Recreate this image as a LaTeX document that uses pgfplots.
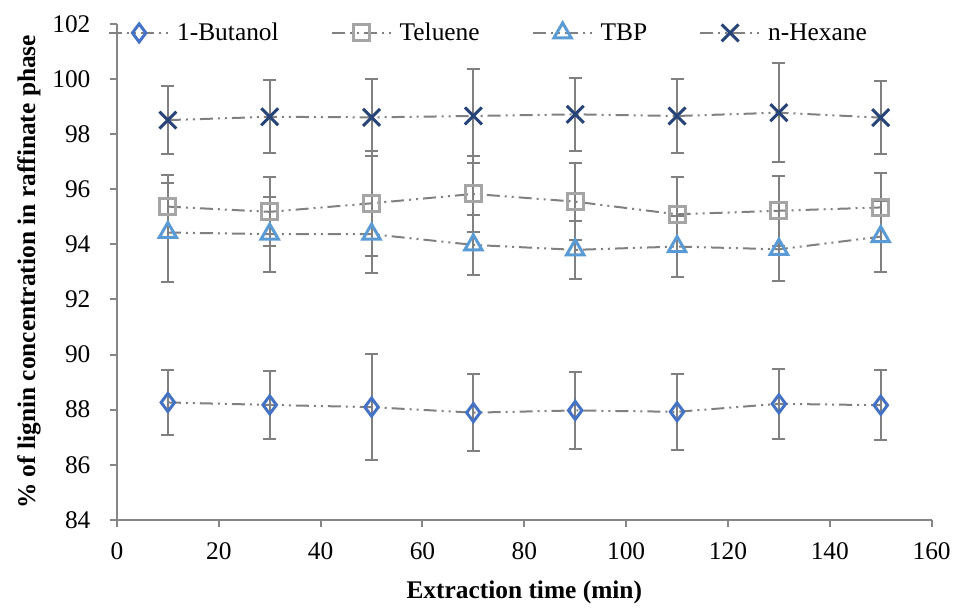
\documentclass[border=0pt]{standalone}
\usepackage{fontspec}
\setmainfont{Liberation Serif}
\usepackage{pgfplots}
\pgfplotsset{compat=1.18}
\definecolor{butanol}{RGB}{68,114,196}
\definecolor{teluene}{RGB}{165,165,165}
\definecolor{tbp}{RGB}{91,155,213}
\definecolor{hexane}{RGB}{38,68,120}
\definecolor{linegray}{RGB}{128,128,128}
\definecolor{axisgray}{RGB}{134,134,134}

\pgfplotsset{
  solvent/.style={
    draw=linegray, line width=2bp,
    dash pattern=on 13bp off 5bp on 2bp off 5bp on 2bp off 5bp,
    error bars/y dir=both, error bars/y explicit,
    error bars/error bar style={draw=linegray, line width=2bp, solid},
    error bars/error mark options={rotate=90, draw=linegray, mark size=6.5bp, line width=2bp, solid},
  },
}

\begin{document}
\begin{tikzpicture}
\begin{axis}[
  scale only axis,
  width=815bp, height=496bp,
  xmin=0, xmax=160, ymin=84, ymax=102,
  xtick={0,20,...,160}, ytick={84,86,...,102},
  axis lines*=left,
  axis line style={draw=axisgray, line width=2bp},
  tick style={draw=axisgray, line width=2bp},
  tick align=outside, major tick length=7bp,
  /pgf/number format/assume math mode=true,
  ticklabel style={font=\fontsize{25.5}{30}\selectfont},
  yticklabel style={xshift=-16bp},
  xticklabel style={yshift=-12bp},
  xlabel={\textbf{Extraction time (min)}},
  ylabel={\textbf{\% of lignin concentration in raffinate phase}},
  label style={font=\fontsize{25.5}{30}\selectfont},
  xlabel style={at={(axis description cs:0.5,-0.147)}, anchor=center},
  ylabel style={at={(axis description cs:-0.108,0.5)}, anchor=center},
  legend columns=4,
  legend style={at={(axis description cs:-0.011,0.982)}, anchor=west,
    draw=none, fill=none, font=\fontsize{25.5}{30}\selectfont,
    inner sep=0pt,
    /tikz/every odd column/.append style={column sep=5bp},
    /tikz/every even column/.append style={column sep=50bp}},
  legend image code/.code={
    \draw[mark indices={2}, #1] plot coordinates {(0bp,0bp) (30bp,0bp) (60bp,0bp)};},
]
\addplot[solvent, mark=diamond, mark size=9bp,
  mark options={solid, draw=butanol, fill=white, line width=3bp}]
  coordinates {
  (10,88.26) +- (0,1.18)
  (30,88.17) +- (0,1.25)
  (50,88.09) +- (0,1.92)
  (70,87.89) +- (0,1.40)
  (90,87.97) +- (0,1.40)
  (110,87.92) +- (0,1.37)
  (130,88.21) +- (0,1.28)
  (150,88.16) +- (0,1.27)};
\addplot[solvent, mark=square, mark size=8bp,
  mark options={solid, draw=teluene, fill=white, line width=3bp}]
  coordinates {
  (10,95.37) +- (0,1.15)
  (30,95.18) +- (0,1.25)
  (50,95.49) +- (0,1.90)
  (70,95.83) +- (0,1.38)
  (90,95.55) +- (0,1.40)
  (110,95.09) +- (0,1.37)
  (130,95.22) +- (0,1.27)
  (150,95.34) +- (0,1.26)};
\addplot[solvent, mark=triangle, mark size=10bp,
  mark options={solid, draw=tbp, fill=white, line width=3bp}]
  coordinates {
  (10,94.43) +- (0,1.78)
  (30,94.37) +- (0,1.36)
  (50,94.37) +- (0,1.42)
  (70,93.98) +- (0,1.10)
  (90,93.80) +- (0,1.06)
  (110,93.92) +- (0,1.12)
  (130,93.82) +- (0,1.14)
  (150,94.28) +- (0,1.29)};
\addplot[solvent, mark=x, mark size=12bp,
  mark options={solid, draw=hexane, line width=3bp}]
  coordinates {
  (10,98.51) +- (0,1.24)
  (30,98.63) +- (0,1.32)
  (50,98.61) +- (0,1.41)
  (70,98.66) +- (0,1.70)
  (90,98.72) +- (0,1.33)
  (110,98.66) +- (0,1.33)
  (130,98.78) +- (0,1.80)
  (150,98.60) +- (0,1.33)};
\legend{1-Butanol, Teluene, TBP, n-Hexane}
\end{axis}
\useasboundingbox (-117bp,-84bp) rectangle (837bp,520bp);
\end{tikzpicture}
\end{document}
